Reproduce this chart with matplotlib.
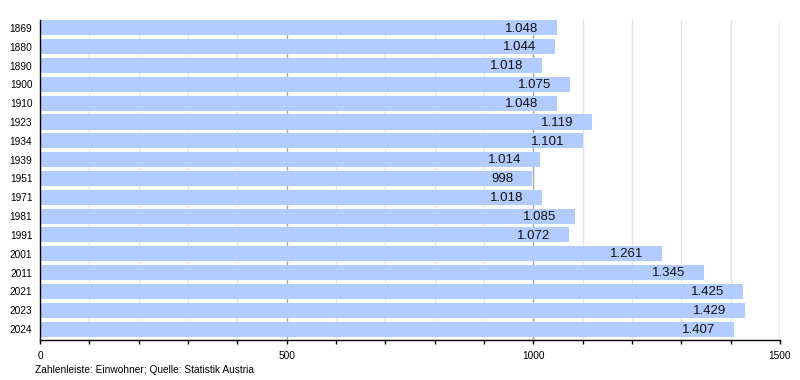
import matplotlib
matplotlib.use("Agg")
import matplotlib.pyplot as plt
import numpy as np

# Daten (Einwohner)
jahre = ["1869", "1880", "1890", "1900", "1910", "1923", "1934", "1939", "1951",
         "1971", "1981", "1991", "2001", "2011", "2021", "2023", "2024"]
einwohner = [1048, 1044, 1018, 1075, 1048, 1119, 1101, 1014, 998,
             1018, 1085, 1072, 1261, 1345, 1425, 1429, 1407]
x_major = [0, 500, 1000, 1500]
x_minor = list(range(0, 1501, 100))

plt.rcParams['font.family'] = ['Liberation Sans', 'DejaVu Sans']

fig = plt.figure(figsize=(8, 3.8), dpi=100)
ax = fig.add_axes([0.05, 0.1053, 0.925, 0.8421])

pos = np.arange(len(jahre))
ax.barh(pos, einwohner, height=0.8, color='#b3ccff', zorder=2)

# Gitterlinien hinter den Balken
for v in x_minor:
    if v == 0:
        continue
    col = '#a8a8a8' if v in x_major else '#e4e4e4'
    ax.axvline(v, color=col, lw=1, zorder=1)

for p, v in zip(pos, einwohner):
    txt = f"{v:,}".replace(",", ".")
    ax.annotate(txt, xy=(v, p), xytext=(-13.5, -0.5), textcoords='offset points',
                ha='right', va='center', fontsize=9.5, color='#111111', zorder=3)

ax.set_xlim(0, 1500)
ax.set_ylim(len(jahre) - 1 + 0.58, -0.42)
ax.set_yticks(pos)
ax.set_yticklabels(jahre, fontsize=7.3, fontfamily='Liberation Sans')
ax.tick_params(axis='y', length=0, pad=5.5)
ax.set_xticks(x_major)
ax.set_xticklabels([str(v) for v in x_major], fontsize=7.3, fontfamily='Liberation Sans')
ax.set_xticks(x_minor, minor=True)
ax.tick_params(axis='x', which='both', direction='out', length=3, width=1, pad=5)

for s in ['top', 'right']:
    ax.spines[s].set_visible(False)
for s in ['left', 'bottom']:
    ax.spines[s].set_color('black')
    ax.spines[s].set_linewidth(1)
    ax.spines[s].set_zorder(4)

fig.text(35 / 800, 1 - 370 / 380, "Zahlenleiste: Einwohner; Quelle: Statistik Austria",
         fontsize=7.3, ha='left', va='center')

fig.savefig("out.png", dpi=100)
